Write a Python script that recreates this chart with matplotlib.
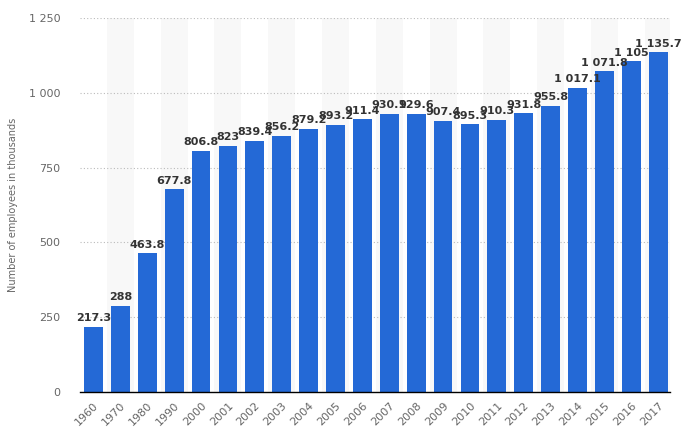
import numpy as np
import matplotlib.pyplot as plt
from matplotlib.ticker import FuncFormatter

# data
years = ['1960', '1970', '1980', '1990', '2000', '2001', '2002', '2003', '2004',
         '2005', '2006', '2007', '2008', '2009', '2010', '2011', '2012', '2013',
         '2014', '2015', '2016', '2017']
employees = [217.3, 288, 463.8, 677.8, 806.8, 823, 839.4, 856.2, 879.2,
             893.2, 911.4, 930.1, 929.6, 907.4, 895.3, 910.3, 931.8, 955.8,
             1017.1, 1071.8, 1105, 1135.7]
y_ticks = [0, 250, 500, 750, 1000, 1250]


def fmt_num(v):
    # thousands separated by a space, like the source
    if float(v).is_integer():
        s = '{:,}'.format(int(v))
    else:
        s = '{:,.1f}'.format(v)
    return s.replace(',', ' ')


fig = plt.figure(figsize=(6.84, 4.4), dpi=100)
ax = fig.add_axes([0.117, 0.109, 0.863, 0.85])

x = np.arange(len(years))

# alternating background stripes
for i in x:
    if i % 2 == 1:
        ax.axvspan(i - 0.5, i + 0.5, color='#f8f8f8', zorder=0, lw=0)

for yt in y_ticks[1:]:
    ax.axhline(yt, color='#bbbbbb', lw=0.8, ls=(0, (1, 2)), zorder=1)

ax.bar(x, employees, width=0.7, color='#2469d6', zorder=2)

for xi, v in zip(x, employees):
    ax.text(xi, v + 12, fmt_num(v), ha='center', va='bottom', fontsize=8,
            fontweight='bold', color='#333333', zorder=3)

ax.set_xlim(-0.5, 21.45)
ax.set_ylim(0, 1250)
ax.set_yticks(y_ticks)
ax.yaxis.set_major_formatter(FuncFormatter(lambda v, p: fmt_num(v)))
ax.set_xticks(x)
ax.set_xticklabels(years, rotation=45, ha='right', rotation_mode='anchor')

for side in ['top', 'right', 'left']:
    ax.spines[side].set_visible(False)
ax.spines['bottom'].set_color('#000000')
ax.spines['bottom'].set_linewidth(1)

ax.tick_params(axis='both', length=0, colors='#666666', labelsize=8)
ax.tick_params(axis='x', pad=6)
ax.tick_params(axis='y', pad=14)
ax.set_ylabel('Number of employees in thousands', fontsize=7, color='#666666',
              labelpad=8)

plt.savefig('out.png', dpi=100)
